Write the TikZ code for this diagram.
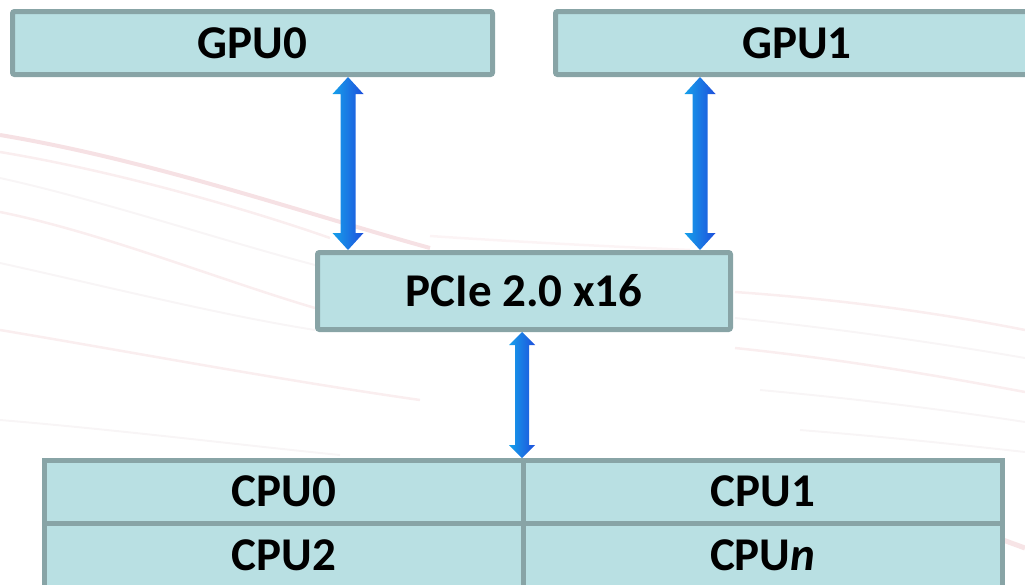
\documentclass[tikz,border=0pt]{standalone}
\usepackage{fontspec}
\setmainfont{Carlito}
\usetikzlibrary{calc}
\definecolor{boxfill}{RGB}{185,224,227}
\definecolor{boxline}{RGB}{136,164,166}
\definecolor{arrL}{RGB}{22,160,235}
\definecolor{arrR}{RGB}{30,80,220}
\definecolor{streak}{RGB}{215,120,130}
\definecolor{streakg}{RGB}{190,160,165}
\newcommand\blockarrow[5]{%
  \path[left color=arrL, right color=arrR] let \p1=(#1), \p2=(#2) in
    (\x1,\y1) -- (\x1+#4pt,\y1-#5pt) -- (\x1+#3pt,\y1-#5pt) --
    (\x2+#3pt,\y2+#5pt) -- (\x2+#4pt,\y2+#5pt) -- (\x2,\y2) --
    (\x2-#4pt,\y2+#5pt) -- (\x2-#3pt,\y2+#5pt) --
    (\x1-#3pt,\y1-#5pt) -- (\x1-#4pt,\y1-#5pt) -- cycle;}
\begin{document}
\begin{tikzpicture}[x=1pt,y=-1pt,
  boxbase/.style={draw=boxline, fill=boxfill, line width=5pt, inner sep=0pt,
    font=\fontsize{47}{47}\selectfont\bfseries},
  unit/.style={boxbase, rounded corners=2pt},
  cell/.style={boxbase},
  streakline/.style={draw=streak, line width=2.5pt, opacity=0.13},
  streakfaint/.style={draw=streakg, line width=2pt, opacity=0.10}]
\useasboundingbox (0,0) rectangle (1025,584);
\clip (0,0) rectangle (1025,584);
% background streaks
\draw[streakline, opacity=0.22, line width=4pt] (0,135) .. controls (150,160) and (300,212) .. (430,248);
\draw[streakline] (0,152) .. controls (120,172) and (250,210) .. (330,238);
\draw[streakfaint] (0,178) .. controls (100,200) and (220,240) .. (315,265);
\draw[streakline] (0,212) .. controls (100,232) and (220,280) .. (315,308);
\draw[streakfaint] (0,263) .. controls (100,285) and (220,315) .. (315,330);
\draw[streakline] (0,330) .. controls (120,350) and (280,380) .. (420,400);
\draw[streakfaint] (0,420) .. controls (120,430) and (240,445) .. (340,455);
\draw[streakline, opacity=0.08] (430,236) .. controls (520,242) and (600,246) .. (690,250);
\draw[streakline] (735,292) .. controls (850,300) and (950,315) .. (1025,330);
\draw[streakfaint] (735,318) .. controls (850,330) and (950,345) .. (1025,358);
\draw[streakline] (735,348) .. controls (850,360) and (950,378) .. (1025,392);
\draw[streakfaint] (760,390) .. controls (870,400) and (960,412) .. (1025,422);
\draw[streakfaint] (800,430) .. controls (900,438) and (970,446) .. (1025,452);
\draw[streakline, opacity=0.2, line width=5pt] (1003,540) -- (1025,548);
% boxes
\node[unit, minimum width=480, minimum height=63] (gpu0) at (252.5,43) {GPU0};
\node[unit, minimum width=483, minimum height=63] (gpu1) at (797,43) {GPU1};
\node[unit, minimum width=413, minimum height=77] (pcie) at (524,291) {PCIe 2.0 x16};
\node[cell, minimum width=478.5, minimum height=62.5] (cpu0) at (283.75,491.75) {CPU0};
\node[cell, minimum width=479.5, minimum height=62.5] (cpu1) at (762.75,491.75) {CPU1};
\node[cell, minimum width=478.5, minimum height=65] (cpu2) at (283.75,555.5) {CPU2};
\node[cell, minimum width=479.5, minimum height=65] (cpun) at (762.75,555.5) {CPU\textit{n}};
% connectors
\coordinate (xa) at (348,0);
\coordinate (xb) at (700,0);
\coordinate (xm) at (522,0);
\blockarrow{gpu0.south -| xa}{pcie.north -| xa}{7.5}{15.5}{17}
\blockarrow{gpu1.south -| xb}{pcie.north -| xb}{7.5}{15.5}{17}
\blockarrow{pcie.south -| xm}{cpu0.north -| xm}{7}{13}{13}
\end{tikzpicture}
\end{document}
